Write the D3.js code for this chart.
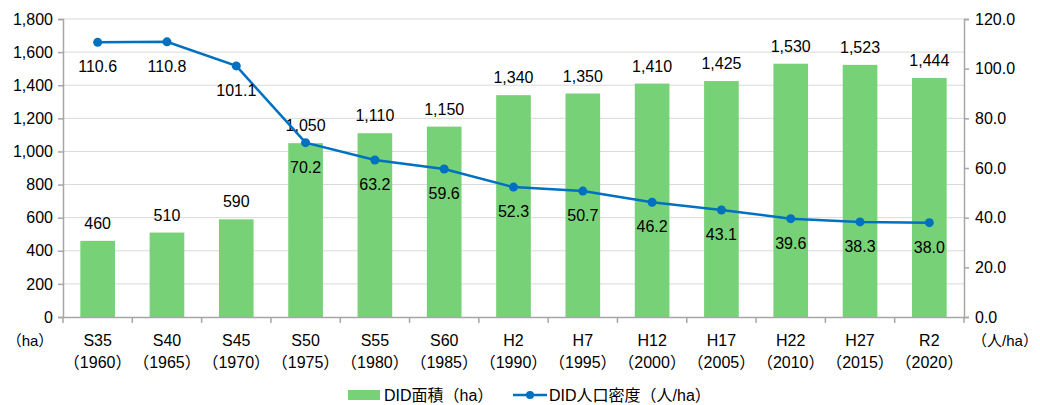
<!DOCTYPE html>
<html>
<head>
<meta charset="utf-8">
<script src="https://cdn.jsdelivr.net/npm/d3@7"></script>
<style>
  body { margin: 0; background: #fff; }
  svg text { font-family: "Liberation Sans", Arial, "Noto Sans CJK JP", sans-serif; fill: #000; }
</style>
</head>
<body>
<div id="chart"></div>
<script>
const eras = ["S35", "S40", "S45", "S50", "S55", "S60", "H2", "H7", "H12", "H17", "H22", "H27", "R2"];
const years = ["1960", "1965", "1970", "1975", "1980", "1985", "1990", "1995", "2000", "2005", "2010", "2015", "2020"];
const areaHa = [460, 510, 590, 1050, 1110, 1150, 1340, 1350, 1410, 1425, 1530, 1523, 1444];
const density = [110.6, 110.8, 101.1, 70.2, 63.2, 59.6, 52.3, 50.7, 46.2, 43.1, 39.6, 38.3, 38.0];
const leftTicks = [0, 200, 400, 600, 800, 1000, 1200, 1400, 1600, 1800];
const rightTicks = [0, 20, 40, 60, 80, 100, 120];

const W = 1040, H = 405;
const m = { left: 63, right: 76, top: 19, bottom: 88 };
const FS = 16;
const svg = d3.select("#chart").append("svg").attr("width", W).attr("height", H);

const x = d3.scaleBand().domain(eras).range([m.left, W - m.right]).paddingInner(0.5).paddingOuter(0.25);
const xb = d3.scaleBand().domain(eras).range([m.left, W - m.right]);
const yL = d3.scaleLinear().domain([0, 1800]).range([H - m.bottom, m.top]);
const yR = d3.scaleLinear().domain([0, 120]).range([H - m.bottom, m.top]);

const axisColor = "#a6a6a6";
const fmt = d3.format(",");

// gridlines
svg.append("g").selectAll("line").data(leftTicks.slice(1)).join("line")
  .attr("x1", m.left).attr("x2", W - m.right)
  .attr("y1", d => yL(d)).attr("y2", d => yL(d))
  .attr("stroke", "#d9d9d9").attr("stroke-width", 1);

// bars
svg.append("g").selectAll("rect").data(areaHa).join("rect")
  .attr("x", (d, i) => x(eras[i]))
  .attr("width", x.bandwidth())
  .attr("y", d => yL(d))
  .attr("height", d => yL(0) - yL(d))
  .attr("fill", "#77d177");

// left axis
const gl = svg.append("g").attr("transform", `translate(${m.left},0)`)
  .call(d3.axisLeft(yL).tickValues(leftTicks).tickFormat(fmt).tickSize(5).tickPadding(5));
// right axis
const gr = svg.append("g").attr("transform", `translate(${W - m.right},0)`)
  .call(d3.axisRight(yR).tickValues(rightTicks).tickFormat(d3.format(".1f")).tickSize(5).tickPadding(6));
// bottom axis
const gb = svg.append("g").attr("transform", `translate(0,${H - m.bottom})`)
  .call(d3.axisBottom(xb).tickValues([]).tickSizeOuter(0));
gb.selectAll(".bt").data(eras.map(e => xb(e)).concat([xb(eras[eras.length - 1]) + xb.bandwidth()]))
  .join("line").attr("class", "bt")
  .attr("x1", d => d).attr("x2", d => d).attr("y1", 0).attr("y2", 6);

[gl, gr, gb].forEach(g => {
  g.selectAll("path.domain, line").attr("stroke", axisColor).attr("stroke-width", 1.5);
  g.selectAll("text").attr("font-size", FS).attr("fill", "#000");
});

// x labels
const xl = svg.append("g").attr("font-size", FS).attr("text-anchor", "middle");
xl.selectAll("text.e").data(eras).join("text").attr("class", "e")
  .attr("x", d => xb(d) + xb.bandwidth() / 2).attr("y", 346).text(d => d);
xl.selectAll("text.y").data(years).join("text").attr("class", "y")
  .attr("x", (d, i) => xb(eras[i]) + xb.bandwidth() / 2).attr("y", 368)
  .text(d => "（" + d + "）");

svg.append("text").attr("x", 30).attr("y", 346).attr("text-anchor", "middle")
  .attr("font-size", 15).text("（ha）");
svg.append("text").attr("x", 1005).attr("y", 346).attr("text-anchor", "middle")
  .attr("font-size", 15).text("（人/ha）");

// bar labels
svg.append("g").selectAll("text").data(areaHa).join("text")
  .attr("x", (d, i) => x(eras[i]) + x.bandwidth() / 2)
  .attr("y", d => yL(d) - 12)
  .attr("text-anchor", "middle").attr("font-size", FS).text(d => fmt(d));

// line
const cx = i => x(eras[i]) + x.bandwidth() / 2;
svg.append("path").datum(density)
  .attr("d", d3.line().x((d, i) => cx(i)).y(d => yR(d)))
  .attr("fill", "none").attr("stroke", "#0070c0").attr("stroke-width", 2.5);
svg.append("g").selectAll("circle").data(density).join("circle")
  .attr("cx", (d, i) => cx(i)).attr("cy", d => yR(d)).attr("r", 4.5).attr("fill", "#0070c0");
svg.append("g").selectAll("text").data(density).join("text")
  .attr("x", (d, i) => cx(i)).attr("y", d => yR(d) + 30)
  .attr("text-anchor", "middle").attr("font-size", FS).text(d => d.toFixed(1));

// legend
const lg = svg.append("g").attr("font-size", FS);
lg.append("rect").attr("x", 348).attr("y", 390).attr("width", 32).attr("height", 10).attr("fill", "#77d177");
lg.append("text").attr("x", 384).attr("y", 401).text("DID面積（ha）");
lg.append("line").attr("x1", 513).attr("x2", 547).attr("y1", 395).attr("y2", 395)
  .attr("stroke", "#0070c0").attr("stroke-width", 2.5);
lg.append("circle").attr("cx", 530).attr("cy", 395).attr("r", 4).attr("fill", "#0070c0");
lg.append("text").attr("x", 549).attr("y", 401).text("DID人口密度（人/ha）");
</script>
</body>
</html>
